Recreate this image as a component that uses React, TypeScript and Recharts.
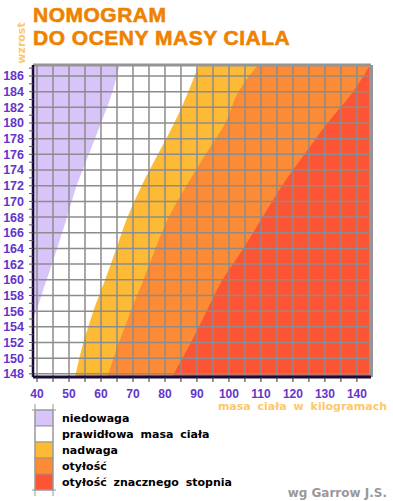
import React from "react";
import { ComposedChart, Area, XAxis, YAxis, ReferenceLine } from "recharts";

// heights (cm) at which the band boundaries were read
const heights = [147.6, 152, 155, 156, 160, 164, 168, 172, 176, 180, 184, 187.4];
// right edge (kg) of each band at those heights
const underweight = [38.75, 38.75, 38.75, 39.7, 43.0, 46.3, 49.4, 52.4, 56.2, 60.0, 63.6, 65.8];
const normal = [51.9, 54.5, 56.8, 57.6, 61.3, 64.8, 68.3, 72.7, 77.8, 82.9, 87.3, 90.6];
const overweight = [62.0, 65.6, 68.4, 69.3, 73.3, 77.0, 81.2, 86.7, 92.7, 98.9, 103.0, 109.0];
const obese = [82.2, 88.1, 91.8, 93.0, 98.0, 104.5, 110.5, 116.6, 123.6, 130.8, 138.8, 144.1];
const severe = [144.4, 144.4, 144.4, 144.4, 144.4, 144.4, 144.4, 144.4, 144.4, 144.4, 144.4, 144.4];

const xDomain = [38.75, 144.4];
const yDomain = [147.6, 187.4];
const xTicks = [40, 45, 50, 55, 60, 65, 70, 75, 80, 85, 90, 95, 100, 105, 110, 115, 120, 125, 130, 135, 140];
const yTicks = [148, 149, 150, 151, 152, 153, 154, 155, 156, 157, 158, 159, 160, 161, 162, 163, 164, 165, 166, 167, 168, 169, 170, 171, 172, 173, 174, 175, 176, 177, 178, 179, 180, 181, 182, 183, 184, 185, 186, 187];
const xGrid = [40, 45, 50, 55, 60, 65, 70, 75, 80, 85, 90, 95, 100, 105, 110, 115, 120, 125, 130, 135, 140];
const yGrid = [148, 150, 152, 154, 156, 158, 160, 162, 164, 166, 168, 170, 172, 174, 176, 178, 180, 182, 184, 186];

const legendLabels = ["niedowaga", "prawidłowa masa ciała", "nadwaga", "otyłość", "otyłość znacznego stopnia"];
const colors = ["#D8C4F8", "#FFFFFF", "#FDBB35", "#FD8A35", "#FE5436"];

const data = heights.map((h, i) => ({
  h,
  under: underweight[i],
  normal: normal[i],
  over: overweight[i],
  obese: obese[i],
  severe: severe[i],
}));

const PURPLE = "#6633CC";
const GRID = "#8c8c8c";

export default function App() {
  return (
    <div style={{ position: "absolute", left: 0, top: 0, width: 393, height: 501, background: "#fff" }}>
      <div style={{ position: "absolute", left: 0, top: 0 }}>
        <ComposedChart
          width={393}
          height={501}
          data={data}
          layout="vertical"
          margin={{ top: 65, right: 22, bottom: 104, left: 0 }}
        >
          <XAxis
            type="number"
            domain={xDomain}
            allowDataOverflow
            ticks={xTicks}
            interval={0}
            height={20}
            tickSize={5}
            tickMargin={7}
            tickFormatter={(v) => (v % 10 === 0 ? String(v) : "")}
            tick={{ fill: PURPLE, fontSize: 12, fontWeight: 700, fontFamily: "Liberation Sans, Arial, sans-serif" }}
            tickLine={{ stroke: "#333", strokeWidth: 1 }}
            axisLine={{ stroke: "#1a0a3a", strokeWidth: 3 }}
          />
          <YAxis
            type="number"
            dataKey="h"
            domain={yDomain}
            allowDataOverflow
            reversed
            ticks={yTicks}
            interval={0}
            width={33}
            tickSize={4}
            tickMargin={5}
            tickFormatter={(v) => (v % 2 === 0 ? String(v) : "")}
            tick={{ fill: PURPLE, fontSize: 12.5, fontWeight: 700, fontFamily: "Liberation Sans, Arial, sans-serif" }}
            tickLine={{ stroke: "#555", strokeWidth: 1 }}
            axisLine={{ stroke: "#1a0a3a", strokeWidth: 2.5 }}
          />
          <Area dataKey="severe" type="monotone" stroke="none" fill={colors[4]} fillOpacity={1} isAnimationActive={false} />
          <Area dataKey="obese" type="monotone" stroke="none" fill={colors[3]} fillOpacity={1} isAnimationActive={false} />
          <Area dataKey="over" type="monotone" stroke="none" fill={colors[2]} fillOpacity={1} isAnimationActive={false} />
          <Area dataKey="normal" type="monotone" stroke="none" fill={colors[1]} fillOpacity={1} isAnimationActive={false} />
          <Area dataKey="under" type="monotone" stroke="none" fill={colors[0]} fillOpacity={1} isAnimationActive={false} />
          {xGrid.map((v) => (
            <ReferenceLine key={"x" + v} x={v} stroke={GRID} strokeWidth={1.5} />
          ))}
          {yGrid.map((v) => (
            <ReferenceLine key={"y" + v} y={v} stroke={GRID} strokeWidth={1.5} />
          ))}
          <ReferenceLine y={yDomain[1]} stroke="#959595" strokeWidth={3} />
          <ReferenceLine x={xDomain[1]} stroke="#959595" strokeWidth={4} />
        </ComposedChart>
      </div>
      <svg
        width={393}
        height={501}
        style={{ position: "absolute", left: 0, top: 0, pointerEvents: "none" }}
      >
        <g fontFamily="Liberation Sans, Arial, sans-serif" fontWeight={700} fill="#EE8200" fontSize={21} letterSpacing={0.5} stroke="#EE8200" strokeWidth={0.6}>
          <text x={33} y={21.5}>NOMOGRAM</text>
          <text x={33} y={44.5}>DO OCENY MASY CIALA</text>
        </g>
        <text
          transform="translate(25,43) rotate(-90)"
          textAnchor="middle"
          fontFamily="DejaVu Sans, sans-serif"
          fontWeight={700}
          fontSize={11}
          fill="#FDC869"
        >
          wzrost
        </text>
        <text
          x={387}
          y={410}
          textAnchor="end"
          fontFamily="DejaVu Sans, sans-serif"
          fontWeight={700}
          fontSize={11}
          wordSpacing={3}
          fill="#FDC869"
        >
          masa ciała w kilogramach
        </text>
        {legendLabels.map((lab, i) => (
          <g key={lab}>
            <rect x={35} y={410 + i * 16} width={18} height={16} fill={colors[i]} stroke="#999" strokeWidth={1} />
            <text
              x={62}
              y={421.5 + i * 16}
              fontFamily="DejaVu Sans, sans-serif"
              fontWeight={700}
              fontSize={11}
              wordSpacing={3}
              fill="#000"
            >
              {lab}
            </text>
          </g>
        ))}
        <line x1={35} y1={404} x2={35} y2={496} stroke="#999" strokeWidth={1} />
        <line x1={53} y1={404} x2={53} y2={496} stroke="#999" strokeWidth={1} />
        <line x1={32} y1={410} x2={56} y2={410} stroke="#999" strokeWidth={1} />
        <line x1={32} y1={490} x2={56} y2={490} stroke="#999" strokeWidth={1} />
        <text
          x={387}
          y={496.5}
          textAnchor="end"
          fontFamily="DejaVu Sans, sans-serif"
          fontWeight={700}
          fontSize={12}
          fill="#999"
        >
          wg Garrow J.S.
        </text>
      </svg>
    </div>
  );
}
